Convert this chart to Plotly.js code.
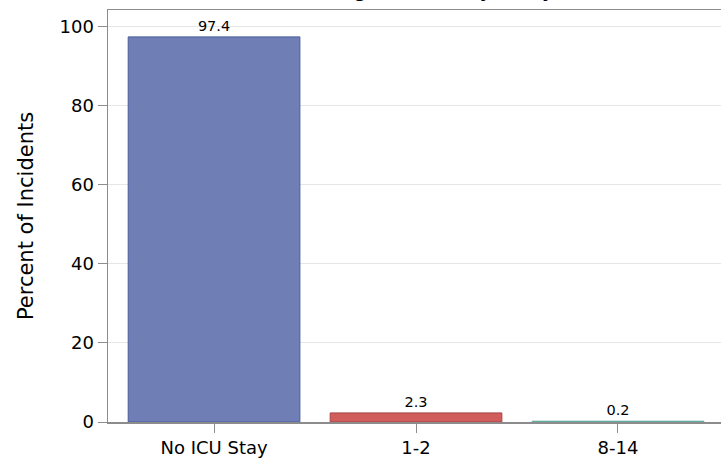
<!DOCTYPE html>
<html>
<head>
<meta charset="utf-8">
<script src="https://cdn.plot.ly/plotly-3.0.1.min.js"></script>
<style>html,body{margin:0;padding:0;background:#fff;}#chart{width:721px;height:463px;}</style>
</head>
<body>
<div id="chart"></div>
<script>
var categories = ["No ICU Stay", "1-2", "8-14"];
var percents = [97.4, 2.3, 0.2];
var labels = ["97.4", "2.3", "0.2"];
var yTicks = [0, 20, 40, 60, 80, 100];
var chartTitle = "Length of ICU Stay in Days";

var fills = ["#6f7fb5", "#d05c5c", "#6bbaa8"];
var edges = ["#4b5c9e", "#a84444", "#5aa898"];

var FONT = "DejaVu Sans, Verdana, sans-serif";

var trace = {
  type: "bar",
  x: categories,
  y: percents,
  text: labels,
  textposition: "outside",
  cliponaxis: false,
  textfont: {family: FONT, size: 14.5, color: "#000"},
  marker: {color: fills, line: {color: edges, width: 1}},
  hoverinfo: "none"
};

var layout = {
  width: 721, height: 463,
  margin: {l: 108, r: 0, t: 10, b: 41, autoexpand: false},
  paper_bgcolor: "#fff", plot_bgcolor: "#fff",
  showlegend: false,
  bargap: 0.15,
  title: {
    text: "<b>" + chartTitle + "</b>",
    font: {family: FONT, size: 16, color: "#000"},
    yref: "paper", y: 1, yanchor: "bottom",
    pad: {b: 12},
    xref: "container", x: 0.613, xanchor: "center",
    automargin: false
  },
  font: {family: FONT, color: "#000"},
  xaxis: {
    type: "category",
    range: [-0.525, 2.51],
    showline: true, linecolor: "#8c8c8c", linewidth: 1.5, mirror: true,
    ticks: "outside", ticklen: 9, tickcolor: "#8c8c8c", tickwidth: 1,
    tickfont: {family: FONT, size: 18, color: "#000"},
    showgrid: false, zeroline: false, fixedrange: true
  },
  yaxis: {
    range: [0, 104.2],
    tickvals: yTicks,
    showline: true, linecolor: "#8c8c8c", linewidth: 1.5, mirror: false,
    ticks: "outside", ticklen: 9, tickcolor: "#8c8c8c", tickwidth: 1,
    tickfont: {family: FONT, size: 18, color: "#000"},
    showgrid: true, gridcolor: "#e6e6e6", gridwidth: 1,
    zeroline: false,
    title: {text: "Percent of Incidents", font: {family: FONT, size: 21, color: "#000"}, standoff: 20},
    fixedrange: true
  }
};

Plotly.newPlot("chart", [trace], layout, {displayModeBar: false, staticPlot: true});
</script>
</body>
</html>
